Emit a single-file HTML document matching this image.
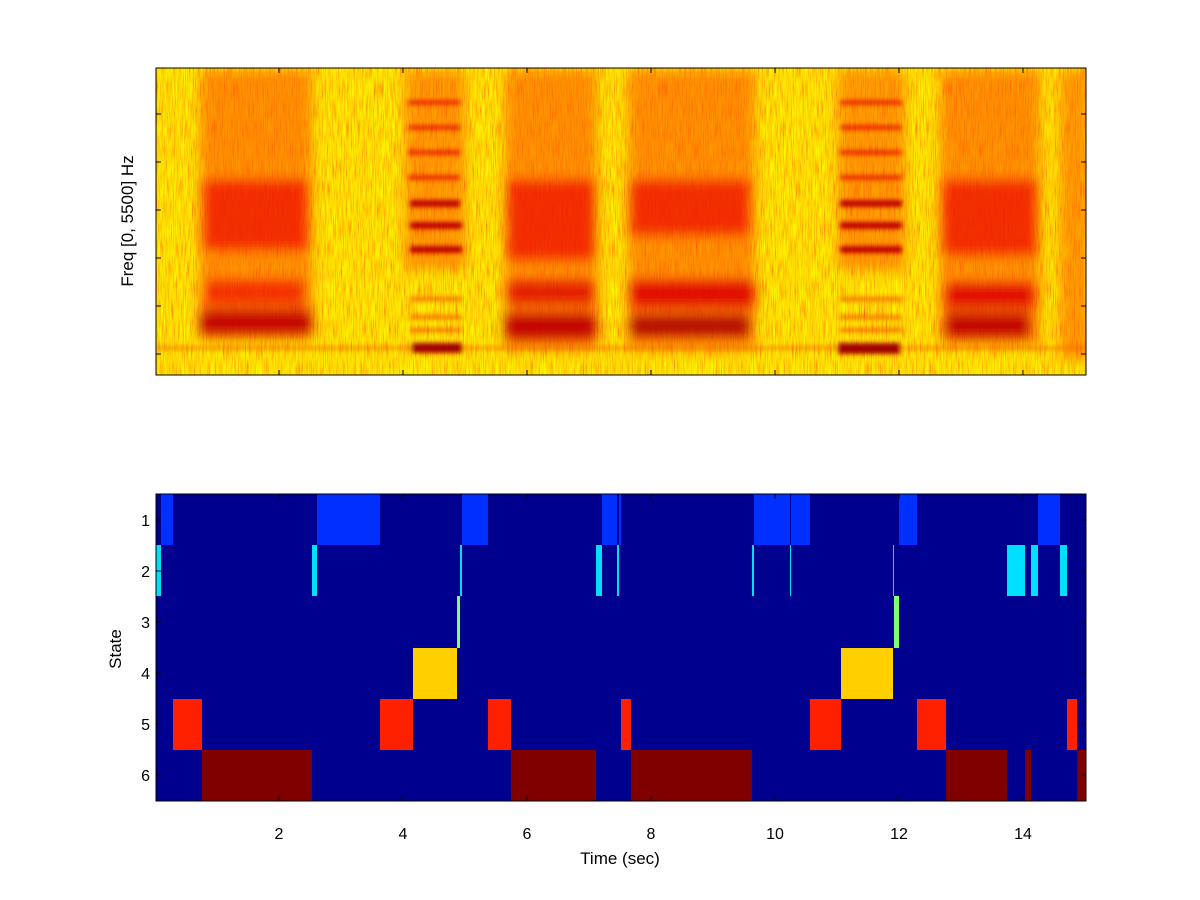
<!DOCTYPE html>
<html><head><meta charset="utf-8"><style>
html,body{margin:0;padding:0;background:#fff;}
svg{display:block;font-family:"Liberation Sans",sans-serif;}
</style></head><body>
<svg width="1200" height="900" viewBox="0 0 1200 900" xmlns="http://www.w3.org/2000/svg">
<defs>
<clipPath id="c1"><rect x="156" y="68" width="930" height="307"/></clipPath>
<filter id="b6" x="-20%" y="-20%" width="140%" height="140%"><feGaussianBlur stdDeviation="6"/></filter>
<filter id="b3" x="-20%" y="-50%" width="140%" height="200%"><feGaussianBlur stdDeviation="2.5"/></filter>
<filter id="noise" x="0" y="0" width="100%" height="100%">
<feTurbulence type="fractalNoise" baseFrequency="0.9 0.05" numOctaves="2" seed="4"/>
<feColorMatrix type="matrix" values="0 0 0 0 1  0 0 0 -1.8 1.6  0 0 0 0 0  0 0 0 0 0.7"/>
</filter>
</defs>
<g clip-path="url(#c1)">
<rect x="156" y="68" width="930" height="307" fill="#ffd800"/>
<rect x="156" y="68" width="930" height="307" filter="url(#noise)"/>
<g filter="url(#b6)">
<rect x="200" y="70" width="112" height="270" fill="#ff4a00" opacity="0.55"/>
<rect x="203" y="180" width="105" height="70" fill="#ee1000" opacity="0.75"/>
<rect x="205" y="280" width="100" height="25" fill="#ee1000" opacity="0.7"/>
<rect x="200" y="310" width="112" height="25" fill="#c00000" opacity="0.95"/>
<rect x="505" y="70" width="92" height="280" fill="#ff4a00" opacity="0.55"/>
<rect x="507" y="180" width="88" height="80" fill="#ee1000" opacity="0.75"/>
<rect x="507" y="280" width="88" height="25" fill="#dd0000" opacity="0.8"/>
<rect x="505" y="313" width="92" height="27" fill="#c00000" opacity="0.95"/>
<rect x="628" y="70" width="127" height="280" fill="#ff4a00" opacity="0.55"/>
<rect x="630" y="180" width="120" height="55" fill="#ee1000" opacity="0.75"/>
<rect x="630" y="280" width="125" height="28" fill="#dd0000" opacity="0.85"/>
<rect x="630" y="315" width="120" height="22" fill="#b00000" opacity="0.95"/>
<rect x="940" y="70" width="100" height="275" fill="#ff4a00" opacity="0.55"/>
<rect x="942" y="180" width="95" height="75" fill="#ee1000" opacity="0.75"/>
<rect x="945" y="283" width="90" height="25" fill="#dd0000" opacity="0.85"/>
<rect x="945" y="313" width="85" height="25" fill="#c00000" opacity="0.95"/>
<rect x="1060" y="70" width="30" height="290" fill="#ff5000" opacity="0.5"/>
<rect x="405" y="70" width="60" height="200" fill="#ff4000" opacity="0.45"/>
<rect x="838" y="70" width="67" height="200" fill="#ff4000" opacity="0.45"/>
</g>
<g filter="url(#b3)">
<g fill="#e00000" opacity="0.7">
<rect x="408" y="100" width="52" height="5"/><rect x="408" y="125" width="52" height="5"/><rect x="408" y="150" width="52" height="5"/><rect x="408" y="175" width="52" height="5"/>
<rect x="840" y="100" width="62" height="5"/><rect x="840" y="125" width="62" height="5"/><rect x="840" y="150" width="62" height="5"/><rect x="840" y="175" width="62" height="5"/>
</g>
<g fill="#c00000">
<rect x="410" y="200" width="50" height="7"/><rect x="410" y="222" width="52" height="7"/><rect x="410" y="246" width="52" height="7"/>
<rect x="840" y="200" width="62" height="7"/><rect x="840" y="222" width="62" height="7"/><rect x="840" y="246" width="62" height="7"/>
</g>
<g fill="#f04000" opacity="0.7">
<rect x="410" y="297" width="52" height="4"/><rect x="410" y="315" width="52" height="4"/><rect x="410" y="328" width="52" height="4"/>
<rect x="840" y="297" width="62" height="4"/><rect x="840" y="315" width="62" height="4"/><rect x="840" y="328" width="62" height="4"/>
</g>
<rect x="156" y="346" width="930" height="4" fill="#f06000" opacity="0.6"/>
<rect x="412" y="343" width="50" height="10" fill="#a00000"/>
<rect x="838" y="343" width="62" height="11" fill="#a00000"/>
</g>
</g>
<rect x="156" y="68" width="930" height="307" fill="none" stroke="#000" stroke-width="1"/>
<g stroke="#000" stroke-width="1">
<path d="M279 68v5M403 68v5M527 68v5M651 68v5M775 68v5M899 68v5M1023 68v5M279 375v-5M403 375v-5M527 375v-5M651 375v-5M775 375v-5M899 375v-5M1023 375v-5"/>
<path d="M156 114h5M156 162h5M156 210h5M156 258h5M156 306h5M156 354h5M1086 114h-5M1086 162h-5M1086 210h-5M1086 258h-5M1086 306h-5M1086 354h-5"/>
</g>
<text transform="translate(133,221) rotate(-90)" text-anchor="middle" font-size="17">Freq [0, 5500] Hz</text>

<rect x="156" y="494" width="930" height="307" fill="#00008f"/>
<g>
<g fill="#0030ff">
<rect x="161" y="494" width="12" height="51"/><rect x="317" y="494" width="63" height="51"/><rect x="462" y="494" width="26" height="51"/>
<rect x="602" y="494" width="15" height="51"/><rect x="619" y="494" width="2" height="51"/>
<rect x="754" y="494" width="36" height="51"/><rect x="791" y="494" width="19" height="51"/>
<rect x="899" y="494" width="18" height="51"/><rect x="1038" y="494" width="22" height="51"/>
</g>
<g fill="#00dfff">
<rect x="156" y="545" width="5" height="51"/><rect x="312" y="545" width="5" height="51"/><rect x="460" y="545" width="2" height="51"/>
<rect x="596" y="545" width="6" height="51"/><rect x="617" y="545" width="2" height="51"/>
<rect x="752" y="545" width="2" height="51"/><rect x="790" y="545" width="1" height="51"/><rect x="893" y="545" width="1" height="51"/>
<rect x="1007" y="545" width="18" height="51"/><rect x="1031" y="545" width="7" height="51"/><rect x="1060" y="545" width="7" height="51"/>
</g>
<g fill="#80ff70">
<rect x="457" y="596" width="3" height="52"/><rect x="894" y="596" width="5" height="52"/>
</g>
<g fill="#ffcf00">
<rect x="413" y="648" width="44" height="51"/><rect x="841" y="648" width="52" height="51"/>
</g>
<g fill="#ff2000">
<rect x="173" y="699" width="29" height="51"/><rect x="380" y="699" width="33" height="51"/><rect x="488" y="699" width="23" height="51"/>
<rect x="621" y="699" width="10" height="51"/><rect x="810" y="699" width="31" height="51"/><rect x="917" y="699" width="29" height="51"/>
<rect x="1067" y="699" width="10" height="51"/>
</g>
<g fill="#800000">
<rect x="202" y="750" width="110" height="51"/><rect x="511" y="750" width="85" height="51"/><rect x="631" y="750" width="121" height="51"/>
<rect x="946" y="750" width="61" height="51"/><rect x="1025" y="750" width="6" height="51"/><rect x="1077" y="750" width="9" height="51"/>
</g>
</g>
<rect x="156" y="494" width="930" height="307" fill="none" stroke="#000" stroke-width="1"/>
<g stroke="#000" stroke-width="1">
<path d="M279 494v5M403 494v5M527 494v5M651 494v5M775 494v5M899 494v5M1023 494v5M279 801v-5M403 801v-5M527 801v-5M651 801v-5M775 801v-5M899 801v-5M1023 801v-5"/>
<path d="M156 520h5M156 571h5M156 622h5M156 673h5M156 724h5M156 775h5M1086 520h-5M1086 571h-5M1086 622h-5M1086 673h-5M1086 724h-5M1086 775h-5"/>
</g>
<g font-size="16" text-anchor="end">
<text x="150" y="526">1</text><text x="150" y="577">2</text><text x="150" y="628">3</text>
<text x="150" y="679">4</text><text x="150" y="730">5</text><text x="150" y="781">6</text>
</g>
<g font-size="16" text-anchor="middle">
<text x="279" y="839">2</text><text x="403" y="839">4</text><text x="527" y="839">6</text><text x="651" y="839">8</text>
<text x="775" y="839">10</text><text x="899" y="839">12</text><text x="1023" y="839">14</text>
</g>
<text x="620" y="864" font-size="17" text-anchor="middle">Time (sec)</text>
<text transform="translate(121,649) rotate(-90)" text-anchor="middle" font-size="17">State</text>
</svg>
</body></html>
